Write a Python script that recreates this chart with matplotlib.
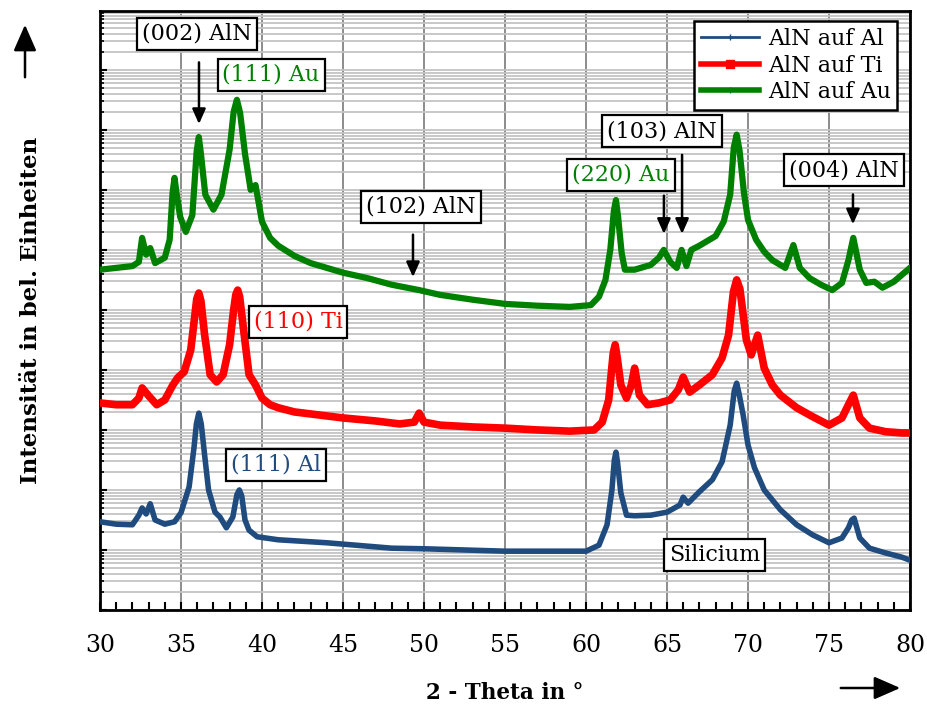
import matplotlib.pyplot as plt
import numpy as np
from matplotlib.lines import Line2D
from matplotlib.patches import FancyArrowPatch
from matplotlib.ticker import LogLocator, MultipleLocator, NullFormatter

plt.rcParams["font.family"] = ["DejaVu Serif"]

# 2-Theta (deg) and log10 of intensity (arb. units)
theta_al = [30.0, 31.0, 32.0, 32.4, 32.6, 32.85, 33.1, 33.4, 34.0, 34.6,
            35.0, 35.5, 35.8, 35.95, 36.1, 36.25, 36.45, 36.7, 37.1, 37.4,
            37.8, 38.2, 38.45, 38.6, 38.75, 38.95, 39.2, 39.7, 41.0, 44.0,
            48.0, 50.0, 55.0, 60.0, 60.8, 61.3, 61.6, 61.75, 61.85, 61.95,
            62.15, 62.5, 63.0, 64.0, 65.0, 65.8, 66.0, 66.3, 67.0, 67.8,
            68.4, 68.9, 69.15, 69.3, 69.45, 69.7, 70.0, 70.4, 71.0, 72.0,
            73.0, 74.0, 75.0, 75.8, 76.2, 76.4, 76.55, 76.9, 77.5, 78.5,
            79.5, 80.0]
log_al = [1.47, 1.43, 1.42, 1.58, 1.70, 1.60, 1.77, 1.50, 1.43, 1.47,
          1.62, 2.05, 2.70, 3.10, 3.28, 3.10, 2.60, 2.00, 1.63, 1.55,
          1.37, 1.55, 1.92, 2.00, 1.90, 1.50, 1.33, 1.22, 1.17, 1.12,
          1.03, 1.02, 0.98, 0.98, 1.08, 1.42, 2.00, 2.50, 2.63, 2.45,
          1.95, 1.58, 1.57, 1.58, 1.63, 1.75, 1.88, 1.78, 1.97, 2.17,
          2.47, 3.08, 3.65, 3.78, 3.60, 3.25, 2.75, 2.37, 2.00, 1.67,
          1.42, 1.25, 1.12, 1.20, 1.37, 1.50, 1.53, 1.20, 1.03, 0.95,
          0.88, 0.83]

theta_ti = [30.0, 31.0, 32.0, 32.4, 32.6, 33.0, 33.5, 34.0, 34.5, 34.8,
            35.2, 35.6, 35.85, 35.97, 36.1, 36.23, 36.45, 36.8, 37.2, 37.6,
            38.0, 38.25, 38.38, 38.5, 38.62, 38.85, 39.2, 39.6, 40.0, 40.5,
            41.0, 42.0, 43.5, 45.0, 47.0, 48.5, 49.4, 49.7, 50.0, 51.0,
            53.0, 55.0, 57.0, 59.0, 60.5, 61.0, 61.4, 61.68, 61.8, 61.93,
            62.15, 62.5, 62.8, 63.0, 63.3, 63.8, 64.5, 65.2, 65.7, 66.0,
            66.4, 67.0, 67.8, 68.4, 68.8, 69.1, 69.3, 69.5, 69.9, 70.2,
            70.6, 71.0, 71.5, 72.0, 73.0, 74.0, 75.0, 75.8, 76.2, 76.5,
            76.9, 77.5, 78.5, 79.5, 80.0]
log_ti = [3.45, 3.42, 3.42, 3.53, 3.70, 3.57, 3.42, 3.50, 3.75, 3.87,
          3.97, 4.33, 4.90, 5.18, 5.28, 5.15, 4.60, 3.92, 3.80, 3.92,
          4.42, 5.00, 5.25, 5.33, 5.22, 4.70, 3.92, 3.75, 3.53, 3.42,
          3.37, 3.30, 3.25, 3.20, 3.15, 3.10, 3.13, 3.28, 3.13, 3.08,
          3.05, 3.03, 3.00, 2.98, 3.00, 3.13, 3.50, 4.28, 4.42, 4.20,
          3.75, 3.53, 3.75, 4.03, 3.58, 3.42, 3.45, 3.50, 3.67, 3.88,
          3.63, 3.75, 3.92, 4.20, 4.58, 5.30, 5.50, 5.35, 4.50, 4.25,
          4.58, 4.03, 3.75, 3.58, 3.37, 3.22, 3.08, 3.20, 3.42, 3.58,
          3.20, 3.03, 2.97, 2.95, 2.95]

theta_au = [30.0, 31.0, 32.0, 32.4, 32.6, 32.85, 33.1, 33.4, 34.0, 34.3,
            34.48, 34.6, 34.72, 34.95, 35.3, 35.7, 35.97, 36.1, 36.23, 36.5,
            37.0, 37.5, 38.0, 38.25, 38.45, 38.65, 38.95, 39.3, 39.6, 40.0,
            40.5, 41.0, 42.0, 43.0, 44.0, 45.0, 46.5, 48.0, 49.7, 51.0,
            53.0, 55.0, 57.0, 59.0, 60.3, 60.8, 61.2, 61.5, 61.72, 61.85,
            61.98, 62.2, 62.4, 63.0, 64.0, 64.5, 64.8, 65.2, 65.6, 65.9,
            66.2, 66.5, 67.0, 68.0, 68.5, 68.9, 69.12, 69.3, 69.48, 69.75,
            70.0, 70.5, 71.0, 71.5, 72.3, 72.8, 73.2, 73.8, 74.5, 75.2,
            75.8, 76.2, 76.5, 76.9, 77.3, 77.8, 78.3, 79.0, 80.0]
log_au = [5.67, 5.70, 5.73, 5.80, 6.20, 5.92, 6.03, 5.78, 5.87, 6.17,
          6.95, 7.20, 6.95, 6.55, 6.30, 6.58, 7.65, 7.88, 7.60, 6.92,
          6.67, 6.92, 7.67, 8.30, 8.50, 8.28, 7.60, 7.00, 7.08, 6.47,
          6.20, 6.07, 5.90, 5.78, 5.70, 5.62, 5.53, 5.42, 5.33, 5.25,
          5.17, 5.10, 5.07, 5.05, 5.08, 5.22, 5.50, 6.00, 6.65, 6.83,
          6.55, 5.95, 5.67, 5.67, 5.75, 5.87, 6.00, 5.80, 5.70, 6.00,
          5.73, 6.00, 6.07, 6.23, 6.47, 6.92, 7.70, 7.92, 7.65, 6.95,
          6.50, 6.17, 5.97, 5.83, 5.70, 6.08, 5.70, 5.53, 5.42, 5.33,
          5.45, 5.83, 6.20, 5.67, 5.45, 5.47, 5.37, 5.47, 5.70]

series_labels = ["AlN auf Al", "AlN auf Ti", "AlN auf Au"]
series_colors = ["#1f4b7f", "#ff0000", "#008000"]

# reflex labels: text, text position (2-Theta, log10 I), colour, arrow (x, y start, y end) or None
peak_labels = ["(002) AlN", "(111) Au", "(102) AlN", "(220) Au", "(103) AlN",
               "(004) AlN", "(110) Ti", "(111) Al", "Silicium"]
label_pos = [(35.99, 9.60), (40.56, 8.92), (49.81, 6.72), (62.16, 7.25), (64.69, 7.98),
             (75.93, 7.33), (42.22, 4.80), (40.86, 2.42), (67.96, 0.92)]
label_colors = ["black", "#008000", "black", "#008000", "black",
                "black", "#ff0000", "#1f4b7f", "black"]
label_arrows = [(36.11, 9.17, 8.05), None, (49.32, 6.30, 5.50), (64.81, 6.95, 6.22),
                (65.93, 7.63, 6.22), (76.48, 6.97, 6.38), None, None, None]

fig = plt.figure(figsize=(9.28, 7.04), dpi=100)
ax = fig.add_axes([100 / 928, 1 - 610 / 704, 810 / 928, 599 / 704])

for theta, logi, color, lw in zip([theta_al, theta_ti, theta_au],
                                  [log_al, log_ti, log_au],
                                  series_colors, [4.0, 5.5, 4.5]):
    ax.plot(theta, 10 ** np.array(logi), color=color, lw=lw,
            solid_joinstyle="round", zorder=3)

ax.set_yscale("log")
ax.set_xlim(30, 80)
ax.set_ylim(1, 10 ** 9.98)

ax.xaxis.set_major_locator(MultipleLocator(5))
ax.xaxis.set_minor_locator(MultipleLocator(1))
ax.yaxis.set_major_locator(LogLocator(base=10, numticks=20))
ax.yaxis.set_minor_locator(LogLocator(base=10, subs=np.arange(2, 10), numticks=20))
ax.yaxis.set_major_formatter(NullFormatter())
ax.yaxis.set_minor_formatter(NullFormatter())

ax.grid(True, axis="x", which="major", color="#8c8c8c", lw=1.4)
ax.grid(True, axis="y", which="both", color="#c4c4c4", lw=1.3)
ax.set_axisbelow(True)

ax.tick_params(axis="x", which="both", direction="in", length=6, width=1.5,
               labelsize=17, pad=17)
ax.tick_params(axis="y", which="major", direction="in", length=5, width=1.5)
ax.tick_params(axis="y", which="minor", direction="in", length=3, width=1.2)
for side in ["left", "bottom", "right", "top"]:
    ax.spines[side].set_linewidth(2)

ax.set_xlabel("2 - Theta in °", fontsize=15.5, fontweight="bold", labelpad=18)
ax.set_ylabel("Intensität in bel. Einheiten", fontsize=16.5, fontweight="bold",
              labelpad=38)

box = dict(boxstyle="square,pad=0.22", facecolor="white", edgecolor="black", lw=1.6)
for text, (tx, ty), color, arrow in zip(peak_labels, label_pos, label_colors, label_arrows):
    ax.text(tx, 10 ** ty, text, color=color, fontsize=16, ha="center", va="center",
            bbox=box, zorder=6)
    if arrow is not None:
        ax.annotate("", xy=(arrow[0], 10 ** arrow[2]), xytext=(arrow[0], 10 ** arrow[1]),
                    arrowprops=dict(arrowstyle="-|>,head_length=0.9,head_width=0.4",
                                    color="black", lw=1.8), zorder=5)

handles = [
    Line2D([], [], color=series_colors[0], lw=2, marker="+", markersize=4),
    Line2D([], [], color=series_colors[1], lw=4, marker="s", markersize=6),
    Line2D([], [], color=series_colors[2], lw=4, marker="+", markersize=4),
]
leg = ax.legend(handles, series_labels, loc="upper right", fontsize=16,
                bbox_to_anchor=(0.99, 0.99), fancybox=False, framealpha=1,
                edgecolor="black", handlelength=2.6, borderpad=0.3,
                labelspacing=0.2, handletextpad=0.4, borderaxespad=0.2)
leg.get_frame().set_linewidth(1.8)
leg.set_zorder(7)

# direction arrows next to the axis titles
for start, end in [((25, 80), (25, 22)), ((838, 688), (903, 688))]:
    fig.patches.append(FancyArrowPatch(
        (start[0] / 928, 1 - start[1] / 704), (end[0] / 928, 1 - end[1] / 704),
        transform=fig.transFigure, arrowstyle="-|>,head_length=0.8,head_width=0.35",
        color="black", lw=1.8, mutation_scale=20))

fig.savefig("out.png", dpi=100)
